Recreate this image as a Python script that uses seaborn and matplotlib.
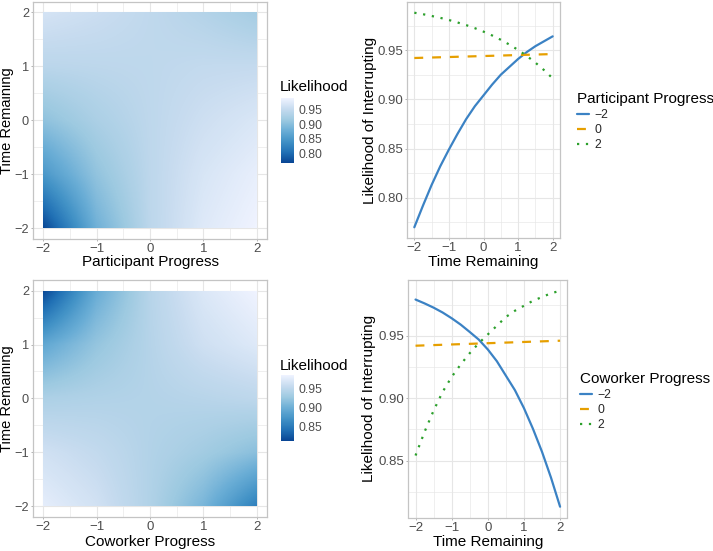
import numpy as np
import pandas as pd
import matplotlib
matplotlib.use("Agg")
import matplotlib.pyplot as plt
import matplotlib.transforms as mtrans
import seaborn as sns
from matplotlib.colors import LinearSegmentedColormap, Normalize
from matplotlib.patches import Rectangle
from matplotlib.ticker import FixedLocator, FormatStrFormatter

# ---------------- data ----------------
grid_levels = [-2, -1, 0, 1, 2]
group_labels = ["\u22122", "0", "2"]

# heatmap 1: rows = Time Remaining (-2..2), cols = Participant Progress (-2..2)
participant_grid = [
    [0.769, 0.881, 0.942, 0.973, 0.988],
    [0.849, 0.906, 0.943, 0.967, 0.981],
    [0.904, 0.927, 0.944, 0.958, 0.969],
    [0.941, 0.943, 0.945, 0.949, 0.950],
    [0.964, 0.956, 0.946, 0.935, 0.921],
]
# heatmap 2: rows = Time Remaining (-2..2), cols = Coworker Progress (-2..2)
coworker_grid = [
    [0.979, 0.965, 0.942, 0.907, 0.854],
    [0.964, 0.955, 0.943, 0.932, 0.917],
    [0.939, 0.942, 0.944, 0.947, 0.951],
    [0.892, 0.923, 0.945, 0.963, 0.974],
    [0.813, 0.897, 0.946, 0.972, 0.986],
]

# line plots: x = Time Remaining
time_curve = [-2, -1.75, -1.5, -1.25, -1, -0.75, -0.5, -0.25, 0,
              0.25, 0.5, 0.75, 1, 1.25, 1.5, 1.75, 2]
time_flat = [-2, 0, 2]

# Participant Progress = -2, 0, 2
part_m2 = [0.770, 0.792, 0.813, 0.832, 0.849, 0.865, 0.880, 0.893, 0.904,
           0.915, 0.925, 0.933, 0.941, 0.948, 0.954, 0.959, 0.964]
part_0 = [0.942, 0.944, 0.946]
part_2 = [0.988, 0.9865, 0.9847, 0.9828, 0.9806, 0.9781, 0.9754, 0.9723, 0.9688,
          0.9649, 0.9605, 0.9556, 0.9502, 0.9441, 0.9373, 0.9297, 0.9213]
# Coworker Progress = -2, 0, 2
cow_m2 = [0.979, 0.9759, 0.9725, 0.9686, 0.964, 0.9589, 0.953, 0.9469, 0.939,
          0.9296, 0.918, 0.9064, 0.892, 0.8754, 0.857, 0.8362, 0.813]
cow_0 = [0.942, 0.944, 0.946]
cow_2 = [0.854, 0.873, 0.890, 0.905, 0.917, 0.927, 0.936, 0.944, 0.951,
         0.958, 0.965, 0.970, 0.974, 0.978, 0.981, 0.984, 0.986]

heat_ticks_top = [0.80, 0.85, 0.90, 0.95]
heat_ticks_bot = [0.85, 0.90, 0.95]

# ---------------- style ----------------
sns.set_theme(style="white")
plt.rcParams["font.family"] = ["Liberation Sans", "DejaVu Sans"]
TICK_COL = "#4D4D4D"
GRID_COL = "#E6E6E6"
BORDER_COL = "#C4C4C4"
blues = ["#084594", "#2171B5", "#4292C6", "#6BAED6", "#9ECAE1", "#C6DBEF", "#EFF3FF"]
cmap = LinearSegmentedColormap.from_list("distiller_blues", blues)
line_colors = {"\u22122": "#3B82C4", "0": "#E69F00", "2": "#2CA02C"}
line_dashes = {"\u22122": "", "0": (4, 4), "2": (1, 3)}

W, H = 713, 551
fig = plt.figure(figsize=(W / 100, H / 100), dpi=100)


def fig_rect(x0, y0, x1, y1):
    return [x0 / W, 1 - y1 / H, (x1 - x0) / W, (y1 - y0) / H]


def place_labels(ax, xlabel, ylabel, xlab_top_px, ylab_right_px, ysize=11):
    ax.set_xlabel(xlabel, fontsize=11, color="black")
    ax.set_ylabel(ylabel, fontsize=ysize, color="black")
    ax.xaxis.set_label_coords(
        0.5, 1 - xlab_top_px / H,
        transform=mtrans.blended_transform_factory(ax.transAxes, fig.transFigure))
    ax.yaxis.set_label_coords(
        ylab_right_px / W, 0.5,
        transform=mtrans.blended_transform_factory(fig.transFigure, ax.transAxes))


def style_axes(ax, xmajor, xminor, ymajor, yminor):
    ax.set_axisbelow(True)
    ax.xaxis.set_major_locator(FixedLocator(xmajor))
    ax.xaxis.set_minor_locator(FixedLocator(xminor))
    ax.yaxis.set_major_locator(FixedLocator(ymajor))
    ax.yaxis.set_minor_locator(FixedLocator(yminor))
    ax.grid(True, which="major", color=GRID_COL, lw=0.8)
    ax.grid(True, which="minor", color=GRID_COL, lw=0.45)
    for s in ax.spines.values():
        s.set_visible(True)
        s.set_color(BORDER_COL)
        s.set_linewidth(0.9)
    ax.tick_params(which="major", direction="out", length=1.6, width=0.7,
                   color="#B3B3B3", labelcolor=TICK_COL, labelsize=9.5, pad=1.6,
                   bottom=True, left=True)
    ax.tick_params(which="minor", length=0)


def heat_panel(rect, grid, xlabel, cax_rect, ticks, title_y, xlab_top, ylab_right):
    ax = fig.add_axes(rect)
    z = np.array(grid)
    norm = Normalize(vmin=z.min(), vmax=z.max())
    im = ax.imshow(z, origin="lower", extent=(-2.5, 2.5, -2.5, 2.5),
                   cmap=cmap, norm=norm, interpolation="bilinear", zorder=1,
                   aspect="auto")
    clip = Rectangle((-2, -2), 4, 4, transform=ax.transData)
    im.set_clip_path(clip)
    ax.set_xlim(-2.2, 2.2)
    ax.set_ylim(-2.2, 2.2)
    style_axes(ax, grid_levels, [-1.5, -0.5, 0.5, 1.5], grid_levels, [-1.5, -0.5, 0.5, 1.5])
    ax.tick_params(axis="y", pad=1.0, labelsize=9.2)
    place_labels(ax, xlabel, "Time Remaining", xlab_top, ylab_right, ysize=10.5)
    cax = fig.add_axes(cax_rect)
    cb = fig.colorbar(im, cax=cax)
    cb.outline.set_visible(False)
    cb.set_ticks(ticks)
    cb.ax.yaxis.set_major_formatter(FormatStrFormatter("%.2f"))
    cax.tick_params(axis="y", direction="in", length=2.6, width=0.8, color="white",
                    left=True, right=True, labelleft=False, labelright=True,
                    labelsize=8.8, labelcolor=TICK_COL, pad=3)
    fig.text(280 / W, 1 - title_y / H, "Likelihood", fontsize=11, va="baseline",
             ha="left", color="black")
    return ax


def line_panel(rect, series, legend_title, ymajor, yminor, title_xy, leg_top,
               xlab_top, ylab_right):
    ax = fig.add_axes(rect)
    xs = [time_curve, time_flat, time_curve]
    df = pd.concat([
        pd.DataFrame({"time": x, "lik": vals, "grp": lab})
        for lab, x, vals in zip(group_labels, xs, series)
    ])
    sns.lineplot(data=df, x="time", y="lik", hue="grp", style="grp",
                 hue_order=group_labels, style_order=group_labels,
                 palette=line_colors, dashes=line_dashes, lw=1.6,
                 legend=False, ax=ax)
    allv = np.concatenate([np.array(s) for s in series])
    lo, hi = allv.min(), allv.max()
    pad = 0.05 * (hi - lo)
    ax.set_ylim(lo - pad, hi + pad)
    ax.set_xlim(-2.2, 2.2)
    style_axes(ax, grid_levels, [-1.5, -0.5, 0.5, 1.5], ymajor, yminor)
    ax.yaxis.set_major_formatter(FormatStrFormatter("%.2f"))
    place_labels(ax, "Time Remaining", "Likelihood of Interrupting", xlab_top, ylab_right)
    fig.text(title_xy[0] / W, 1 - title_xy[1] / H, legend_title, fontsize=11,
             va="baseline", ha="left", color="black")
    handles = ax.get_lines()[:3]
    fig.legend(handles, group_labels, loc="upper left",
               bbox_to_anchor=(title_xy[0] / W, 1 - leg_top / H),
               frameon=False, fontsize=8.8,
               handlelength=1.0, handletextpad=0.4, labelspacing=0.26,
               borderpad=0, borderaxespad=0)
    return ax


heat_panel(fig_rect(32.7, 1.5, 267.4, 239), participant_grid, "Participant Progress",
           fig_rect(281, 98, 294, 163), heat_ticks_top, 91, 255, 14.5)
heat_panel(fig_rect(32.7, 279.9, 267.4, 516.8), coworker_grid, "Coworker Progress",
           fig_rect(281, 375, 294, 441), heat_ticks_bot, 370.5, 535, 14.5)

line_panel(fig_rect(407.4, 2, 559.6, 238), [part_m2, part_0, part_2],
           "Participant Progress", [0.80, 0.85, 0.90, 0.95],
           [0.775, 0.825, 0.875, 0.925, 0.975], (577, 103.5), 109, 255, 377)
line_panel(fig_rect(408.3, 280, 567.3, 517.5), [cow_m2, cow_0, cow_2],
           "Coworker Progress", [0.85, 0.90, 0.95],
           [0.825, 0.875, 0.925, 0.975], (580, 383.5), 389, 535, 376.5)

fig.savefig("out.png", dpi=100)
